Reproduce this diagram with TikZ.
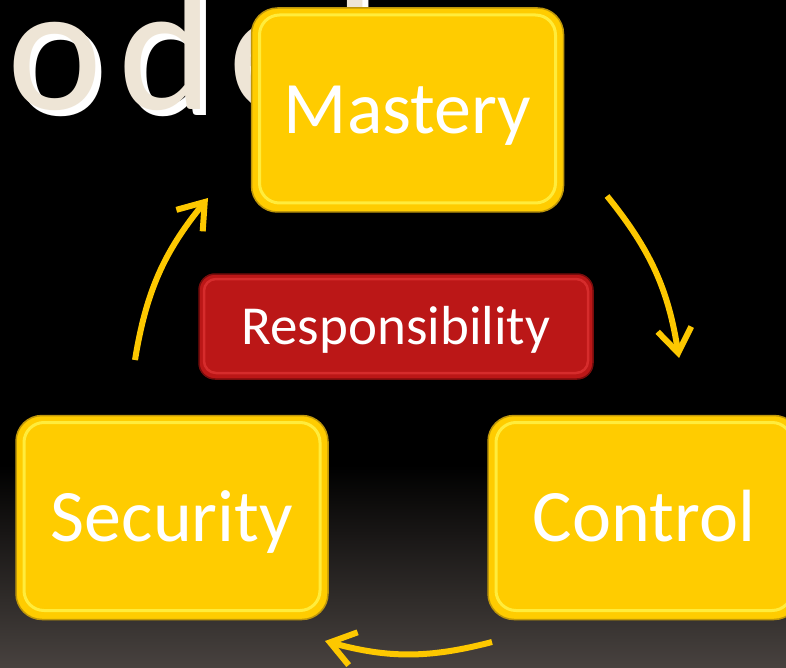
\documentclass[tikz,border=0pt]{standalone}
\usepackage{fontspec}
\setmainfont{Carlito}
\newfontfamily\titlefont[LetterSpace=9]{Carlito}
\usetikzlibrary{arrows.meta}
\begin{document}
\begin{tikzpicture}[x=1pt,y=-1pt,
    stepbox/.style={rounded corners=26pt,minimum width=312pt,minimum height=204pt,inner sep=0pt,
      fill=boxyellow,draw=boxedge,line width=1.5pt,text=white,
      font=\fontsize{74}{74}\selectfont,text height=47pt,text depth=0pt,
      path picture={\draw[boxshine,line width=3pt,rounded corners=20pt]
        ([shift={(8pt,-7pt)}]path picture bounding box.north west) rectangle
        ([shift={(-8pt,9pt)}]path picture bounding box.south east);}},
    corebox/.style={rounded corners=16pt,minimum width=394pt,minimum height=105pt,inner sep=0pt,
      fill=resred,draw=resedge,line width=1.5pt,text=white,
      font=\fontsize{55}{55}\selectfont,text height=35pt,text depth=0pt,
      path picture={\draw[resshine,line width=2.5pt,rounded corners=12pt]
        ([shift={(5pt,-5pt)}]path picture bounding box.north west) rectangle
        ([shift={(-5pt,6pt)}]path picture bounding box.south east);}},
    cyclearrow/.style={arrowyellow,line width=6pt,
      -{Straight Barb[length=24pt,width=34pt]},bend left=15}]
    \definecolor{boxyellow}{RGB}{255,204,0}
    \definecolor{boxedge}{RGB}{190,150,10}
    \definecolor{boxshine}{RGB}{255,236,60}
    \definecolor{resred}{RGB}{187,23,23}
    \definecolor{resedge}{RGB}{120,12,12}
    \definecolor{resshine}{RGB}{214,44,44}
    \definecolor{arrowyellow}{RGB}{253,200,0}
    \definecolor{titlecream}{RGB}{238,229,214}
    \definecolor{bgbottom}{RGB}{72,66,63}
    % Fondo
    \useasboundingbox (0,0) rectangle (786,668);
    \clip (0,0) rectangle (786,668);
    \fill[black] (0,0) rectangle (786,668);
    \shade[top color=black,bottom color=bgbottom] (0,465) rectangle (786,668);
    % Titulo
    \node[anchor=base west,inner sep=0pt,text=white,font=\titlefont\fontsize{180}{180}\selectfont]
      (titleshadow) at (13,116) {odel};
    \node[anchor=base west,inner sep=0pt,text=titlecream,font=\titlefont\fontsize{180}{180}\selectfont]
      (title) at (7,110) {odel};
    % Cajas
    \node[stepbox] (mastery) at (407.5,110) {Mastery};
    \node[stepbox] (security) at (172,517.5) {Security};
    \node[stepbox] (control) at (644,517.5) {Control};
    \node[corebox] (resp) at (396,326.5) {Responsibility};
    % Flechas del ciclo
    \coordinate (secout) at (135,360);
    \coordinate (masin) at (208,198);
    \coordinate (masout) at (607,196);
    \coordinate (conin) at (679,358);
    \coordinate (conout) at (492,642);
    \coordinate (secin) at (325,641);
    \draw[cyclearrow] (secout) to (masin);
    \draw[cyclearrow] (masout) to (conin);
    \draw[cyclearrow] (conout) to (secin);
\end{tikzpicture}
\end{document}
